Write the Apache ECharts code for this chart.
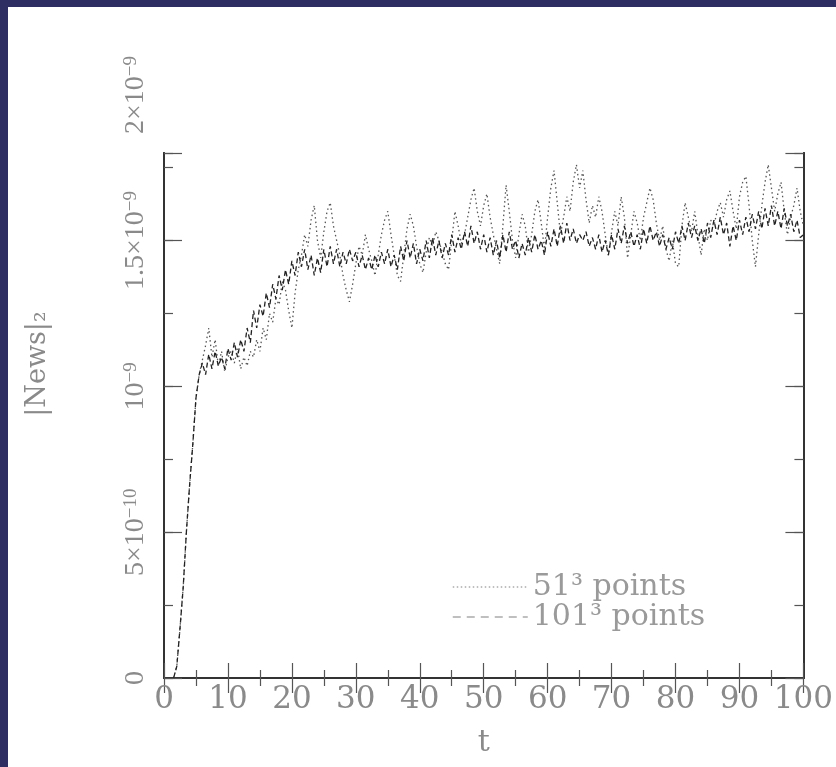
<!DOCTYPE html>
<html><head><meta charset="utf-8">
<script src="https://cdn.jsdelivr.net/npm/echarts@6/dist/echarts.min.js"></script>
<style>
html,body{margin:0;padding:0;background:#2f2e63;}
#c{position:absolute;left:8px;top:7px;width:828px;height:760px;background:#fff;}
</style></head>
<body><div id="c"></div>
<script>
// time samples (t)
const T = [1.5,2,2.5,3,3.5,4,4.5,5,5.5,6,6.5,7,7.5,8,8.5,9,9.5,10,10.5,11,11.5,12,12.5,13,13.5,14,14.5,15,15.5,16,16.5,17,17.5,18,18.5,19,19.5,20,20.5,21,21.5,22,22.5,23,23.5,24,24.5,25,25.5,26,26.5,27,27.5,28,28.5,29,29.5,30,30.5,31,31.5,32,32.5,33,33.5,34,34.5,35,35.5,36,36.5,37,37.5,38,38.5,39,39.5,40,40.5,41,41.5,42,42.5,43,43.5,44,44.5,45,45.5,46,46.5,47,47.5,48,48.5,49,49.5,50,50.5,51,51.5,52,52.5,53,53.5,54,54.5,55,55.5,56,56.5,57,57.5,58,58.5,59,59.5,60,60.5,61,61.5,62,62.5,63,63.5,64,64.5,65,65.5,66,66.5,67,67.5,68,68.5,69,69.5,70,70.5,71,71.5,72,72.5,73,73.5,74,74.5,75,75.5,76,76.5,77,77.5,78,78.5,79,79.5,80,80.5,81,81.5,82,82.5,83,83.5,84,84.5,85,85.5,86,86.5,87,87.5,88,88.5,89,89.5,90,90.5,91,91.5,92,92.5,93,93.5,94,94.5,95,95.5,96,96.5,97,97.5,98,98.5,99,99.5,100];

// |News|_2 in units of 1e-9, 51^3 points (dotted)
const NEWS_51 = [0,0.04,0.17,0.31,0.5,0.66,0.8,0.96,1.04,
1.09,1.14,1.20,1.10,1.16,1.07,1.12,1.05,1.10,1.12,1.08,1.13,1.06,1.10,1.07,1.12,1.10,1.16,1.12,1.20,1.16,1.25,1.22,1.30,1.28,1.36,1.33,1.26,1.20,1.32,1.40,1.45,1.52,1.48,1.57,1.62,1.50,1.44,1.53,1.60,1.63,1.55,1.50,1.45,1.38,1.33,1.29,1.35,1.42,1.48,1.45,1.52,1.47,1.43,1.38,1.45,1.52,1.57,1.60,1.52,1.45,1.38,1.36,1.45,1.54,1.59,1.55,1.48,1.42,1.39,1.46,1.51,1.48,1.53,1.50,1.46,1.42,1.40,1.50,1.60,1.55,1.49,1.52,1.58,1.64,1.68,1.60,1.55,1.62,1.66,1.58,1.52,1.47,1.42,1.55,1.69,1.60,1.50,1.44,1.52,1.59,1.55,1.46,1.52,1.60,1.64,1.56,1.47,1.58,1.68,1.74,1.63,1.52,1.58,1.65,1.60,1.70,1.76,1.68,1.74,1.64,1.56,1.62,1.58,1.65,1.60,1.52,1.45,1.53,1.60,1.55,1.65,1.58,1.44,1.52,1.60,1.56,1.50,1.58,1.63,1.68,1.64,1.56,1.50,1.55,1.47,1.43,1.50,1.42,1.41,1.55,1.63,1.58,1.53,1.60,1.52,1.45,1.54,1.50,1.57,1.55,1.60,1.63,1.58,1.64,1.67,1.60,1.54,1.65,1.70,1.72,1.62,1.50,1.41,1.52,1.62,1.70,1.76,1.68,1.60,1.66,1.70,1.60,1.52,1.58,1.62,1.68,1.60,1.55];

// |News|_2 in units of 1e-9, 101^3 points (dashed)
const NEWS_101 = [0,0.04,0.17,0.31,0.5,0.66,0.8,0.96,1.04,
1.08,1.04,1.11,1.06,1.12,1.07,1.10,1.06,1.13,1.09,1.15,1.10,1.16,1.12,1.20,1.15,1.26,1.20,1.28,1.24,1.32,1.27,1.35,1.30,1.38,1.33,1.40,1.35,1.43,1.38,1.46,1.41,1.47,1.40,1.45,1.38,1.44,1.39,1.47,1.41,1.48,1.42,1.47,1.41,1.46,1.42,1.47,1.43,1.46,1.41,1.45,1.40,1.44,1.40,1.45,1.41,1.46,1.42,1.47,1.41,1.45,1.40,1.48,1.43,1.50,1.44,1.49,1.42,1.47,1.43,1.50,1.44,1.51,1.45,1.50,1.44,1.49,1.45,1.52,1.46,1.51,1.47,1.53,1.48,1.55,1.49,1.53,1.47,1.52,1.46,1.51,1.45,1.50,1.44,1.52,1.46,1.53,1.47,1.50,1.44,1.49,1.45,1.51,1.46,1.52,1.47,1.50,1.45,1.53,1.48,1.54,1.48,1.55,1.49,1.56,1.50,1.54,1.49,1.52,1.50,1.53,1.48,1.51,1.47,1.52,1.46,1.50,1.45,1.52,1.47,1.54,1.49,1.55,1.49,1.53,1.48,1.52,1.47,1.54,1.49,1.55,1.50,1.53,1.48,1.52,1.47,1.51,1.47,1.53,1.49,1.55,1.50,1.56,1.51,1.55,1.50,1.54,1.49,1.56,1.51,1.57,1.52,1.58,1.52,1.56,1.48,1.55,1.50,1.57,1.52,1.58,1.53,1.59,1.54,1.60,1.54,1.61,1.55,1.62,1.55,1.60,1.54,1.61,1.55,1.59,1.53,1.57,1.51,1.52];

const SERIES_NAMES = ['51³ points', '101³ points'];
const X_TICKS = [0,10,20,30,40,50,60,70,80,90,100];
const Y_TICK_VALUES = [0, 0.5, 1, 1.5, 2];
// mantissa and exponent parts of y tick labels
const Y_TICK_BASE = ['0', '5×10', '10', '1.5×10', '2×10'];
const Y_TICK_EXP = ['', '−10', '−9', '−9', '−9'];

const chart = echarts.init(document.getElementById('c'), null, {renderer:'canvas'});
const pairs = arr => arr.map((v,i) => [T[i], v]);
const yLabel = (v) => {
  const i = Y_TICK_VALUES.findIndex(x => Math.abs(x - v) < 1e-6);
  if (i < 0) return '';
  return '{n|' + Y_TICK_BASE[i] + '}' + (Y_TICK_EXP[i] ? '{s|' + Y_TICK_EXP[i] + '}' : '');
};
const frame = {lineStyle:{color:'#333', width:2}};
const labelGray = '#8a8a8a';
const yLabelStyle = {rotate:90, color:labelGray, margin:14, showMinLabel:true, showMaxLabel:true,
  rich:{
    n:{fontFamily:'Liberation Serif', fontSize:28, color:labelGray, verticalAlign:'bottom'},
    s:{fontFamily:'Liberation Serif', fontSize:19, color:labelGray, verticalAlign:'top'}
  }};

chart.setOption({
  animation:false,
  backgroundColor:'#fff',
  grid:[
    {left:156, right:32, top:146, bottom:89},
    {left:156, right:32, top:88, bottom:89}
  ],
  xAxis:[
    {type:'value', gridIndex:0, min:0, max:100, interval:10, position:'bottom',
     axisLine:frame, splitLine:{show:false},
     axisTick:{inside:true, length:15, lineStyle:{color:'#555', width:1.2}},
     minorTick:{show:true, splitNumber:2, length:8, lineStyle:{color:'#555', width:1.2}},
     axisLabel:{fontFamily:'DejaVu Serif', fontSize:31, color:labelGray, margin:6, showMinLabel:true, showMaxLabel:true,
       formatter: v => X_TICKS.includes(v) ? String(v) : ''},
     name:'t', nameLocation:'middle', nameGap:50,
     nameTextStyle:{fontFamily:'DejaVu Serif', fontSize:30, color:labelGray}},
    {type:'value', gridIndex:0, min:0, max:100, interval:10, position:'top',
     axisLine:frame, splitLine:{show:false},
     axisTick:{inside:true, length:15, lineStyle:{color:'#555', width:1.2}},
     minorTick:{show:true, splitNumber:2, length:8, lineStyle:{color:'#555', width:1.2}},
     axisLabel:{show:false}},
    {type:'value', gridIndex:1, min:0, max:100, show:false}
  ],
  yAxis:[
    {type:'value', gridIndex:0, min:0, max:1.8, interval:0.5, position:'left',
     axisLine:frame, splitLine:{show:false},
     axisTick:{inside:true, length:18, lineStyle:{color:'#555', width:1.2}},
     axisLabel:Object.assign({formatter: v => (v > 1.79 ? '' : yLabel(v))}, yLabelStyle)},
    {type:'value', gridIndex:0, min:0, max:1.8, interval:0.25, position:'left',
     axisLine:frame, splitLine:{show:false},
     axisTick:{inside:true, length:9, lineStyle:{color:'#555', width:1.2}},
     axisLabel:{show:false}},
    {type:'value', gridIndex:0, min:0, max:1.8, interval:0.5, position:'right',
     axisLine:frame, splitLine:{show:false},
     axisTick:{inside:true, length:18, lineStyle:{color:'#555', width:1.2}},
     axisLabel:{show:false}},
    {type:'value', gridIndex:0, min:0, max:1.8, interval:0.25, position:'right',
     axisLine:frame, splitLine:{show:false},
     axisTick:{inside:true, length:9, lineStyle:{color:'#555', width:1.2}},
     axisLabel:{show:false}},
    {type:'value', gridIndex:1, min:0, max:2, interval:0.5, position:'left',
     axisLine:{show:false}, axisTick:{show:false}, splitLine:{show:false},
     axisLabel:Object.assign({formatter: v => (v > 1.99 ? yLabel(v) : '')}, yLabelStyle)}
  ],
  legend:{
    orient:'vertical', left:439, top:560, itemGap:0, itemWidth:75, itemHeight:14,
    data:[
      {name:SERIES_NAMES[0], lineStyle:{color:'#aaa', width:1.5, type:[1.5,2.5]}},
      {name:SERIES_NAMES[1], lineStyle:{color:'#aaa', width:1.5, type:[8,6]}}
    ],
    textStyle:{fontFamily:'DejaVu Serif', fontSize:30, color:'#9a9a9a', lineHeight:27},
    itemStyle:{opacity:0}
  },
  graphic:[
    {type:'text', x:30, y:357, rotation:Math.PI/2,
     style:{text:'|News|₂', fontFamily:'DejaVu Serif', fontSize:27, fill:labelGray, align:'center', verticalAlign:'middle'}}
  ],
  series:[
    {name:SERIES_NAMES[0], type:'line', xAxisIndex:0, yAxisIndex:0, data:pairs(NEWS_51),
     symbol:'none', lineStyle:{color:'#555', width:1.3, type:[1.5,3]}, z:2},
    {name:SERIES_NAMES[1], type:'line', xAxisIndex:0, yAxisIndex:0, data:pairs(NEWS_101),
     symbol:'none', lineStyle:{color:'#222', width:1.3, type:[5,3]}, z:3}
  ]
});
</script></body></html>
